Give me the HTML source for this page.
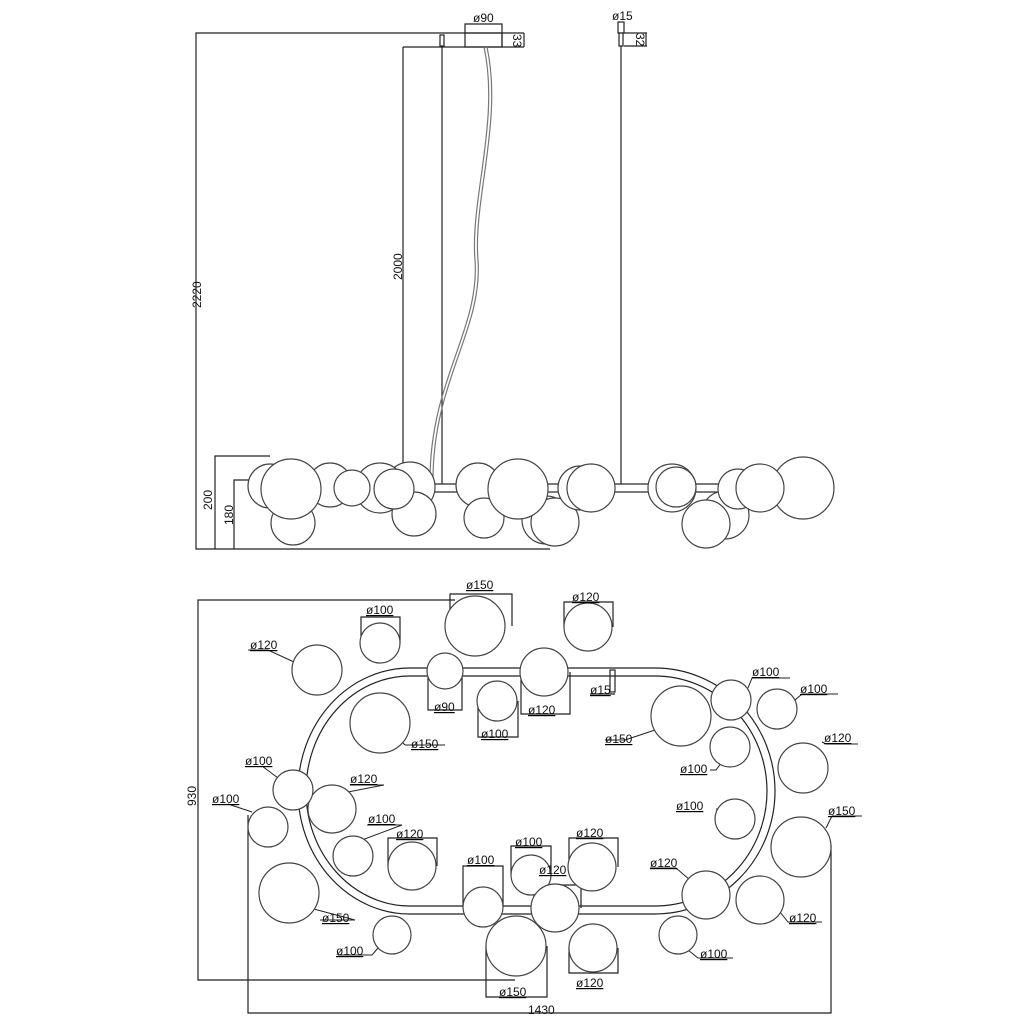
<!DOCTYPE html>
<html><head><meta charset="utf-8"><style>
html,body{margin:0;padding:0;background:#fff}
svg{display:block}
text{font-family:"Liberation Sans",sans-serif;font-size:12px;fill:#111}
</style></head><body>
<svg width="1024" height="1024" viewBox="0 0 1024 1024" xmlns="http://www.w3.org/2000/svg">
<g fill="none" stroke="#222" stroke-width="1.2">
<!-- elevation dimension lines -->
<polyline points="524,33 196,33 196,549 550,549"/>
<line x1="403" y1="47" x2="524" y2="47"/>
<line x1="524" y1="33" x2="524" y2="47"/>
<polyline points="465,33 465,24 502,24 502,47"/>
<rect x="465" y="33" width="37" height="14"/>
<rect x="440" y="35" width="4" height="11"/>
<rect x="618" y="22" width="6" height="11"/>
<rect x="619" y="33" width="4" height="13"/>
<line x1="624" y1="33" x2="647" y2="33"/>
<line x1="624" y1="46" x2="647" y2="46"/>
<line x1="646" y1="33" x2="646" y2="46"/>
<line x1="403" y1="47" x2="403" y2="484"/>
<line x1="442" y1="46" x2="442" y2="484"/>
<line x1="621" y1="46" x2="621" y2="484"/>
<path d="M484,47 C500,120 470,200 475,260 C480,330 430,380 430,480" stroke="#777"/>
<path d="M487,47 C503,120 473,200 478,260 C483,330 433,380 433,480" stroke="#777"/>
<polyline points="270,456 215,456 215,549"/>
<polyline points="260,480 234,480 234,549"/>
<!-- bar -->
<rect x="250" y="484" width="550" height="8" fill="#fff"/>
<!-- elevation globes -->
<g fill="#fff" stroke="#444">
<circle cx="270" cy="486" r="22"/><circle cx="293" cy="523" r="22"/><circle cx="330" cy="485" r="22"/>
<circle cx="410" cy="487" r="25"/><circle cx="414" cy="514" r="22"/><circle cx="380" cy="488" r="25"/>
<circle cx="352" cy="488" r="18"/><circle cx="291" cy="489" r="30"/><circle cx="394" cy="489" r="20"/>
<circle cx="478" cy="485" r="22"/><circle cx="484" cy="518" r="20"/><circle cx="546" cy="520" r="24"/>
<circle cx="555" cy="522" r="24"/><circle cx="518" cy="489" r="30"/><circle cx="580" cy="488" r="22"/>
<circle cx="591" cy="488" r="24"/><circle cx="672" cy="488" r="24"/><circle cx="725" cy="515" r="24"/>
<circle cx="706" cy="524" r="24"/><circle cx="676" cy="487" r="20"/><circle cx="738" cy="489" r="20"/>
<circle cx="803" cy="488" r="31"/><circle cx="760" cy="488" r="24"/>
</g>
<!-- plan dimension lines -->
<polyline points="455,600 198,600 198,980 515,980"/>
<polyline points="248,815 248,1013 831,1013 831,845"/>
<!-- track -->
<path d="M410,668 L655,668 A120,123 0 0 1 655,914 L410,914 A112,123 0 0 1 410,668 Z"/>
<path d="M410,676 L655,676 A112,115 0 0 1 655,906 L410,906 A104,115 0 0 1 410,676 Z"/>
<!-- brackets -->
<polyline points="361,643 361,617 400,617 400,643"/>
<polyline points="450,626 450,594 512,594 512,626"/>
<polyline points="564,627 564,602 613,602 613,627"/>
<polyline points="428,671 428,710 462,710 462,671"/>
<polyline points="478,701 478,737 518,737 518,701"/>
<polyline points="521,672 521,714 570,714 570,672"/>
<rect x="610" y="670" width="5" height="22"/>
<line x1="590" y1="694" x2="615" y2="694"/>
<polyline points="388,866 388,838 437,838 437,866"/>
<polyline points="463,907 463,866 503,866 503,907"/>
<polyline points="511,875 511,846 551,846 551,875"/>
<polyline points="534,908 534,885 581,885 581,908"/>
<polyline points="569,867 569,838 618,838 618,867"/>
<polyline points="486,946 486,997 547,997 547,946"/>
<polyline points="569,948 569,973 618,973 618,948"/>
<!-- leaders -->
<g stroke-width="1">
<path d="M248,650 L268,650 L294,662"/><path d="M405,745 L445,745 M405,745 L398,738"/>
<path d="M605,740 L625,740 L655,730"/><path d="M748,688 L752,678 L790,678"/>
<path d="M795,700 L802,694 L838,694"/><path d="M710,770 L716,770 L722,762"/>
<path d="M822,742 L826,744 L858,744"/><path d="M735,809 L716,809"/>
<path d="M826,828 L832,816 L862,816"/><path d="M650,868 L676,868 L690,880"/>
<path d="M780,912 L788,922 L822,922"/><path d="M688,950 L698,958 L733,958"/>
<path d="M262,766 L278,778"/><path d="M228,804 L252,812"/>
<path d="M350,785 L384,785 L348,792"/><path d="M367,825 L402,825 L362,840"/>
<path d="M320,920 L355,920 L310,908"/><path d="M338,955 L372,955 L378,948"/>
</g>
<!-- plan globes -->
<g fill="#fff" stroke="#444">
<circle cx="380" cy="643" r="20"/><circle cx="475" cy="626" r="30"/><circle cx="588" cy="627" r="24"/>
<circle cx="445" cy="671" r="18"/><circle cx="497" cy="701" r="20"/><circle cx="544" cy="672" r="24"/>
<circle cx="317" cy="670" r="25"/><circle cx="380" cy="723" r="30"/><circle cx="681" cy="716" r="30"/>
<circle cx="777" cy="709" r="20"/><circle cx="730" cy="747" r="20"/><circle cx="731" cy="700" r="20"/>
<circle cx="803" cy="768" r="25"/><circle cx="735" cy="819" r="20"/><circle cx="801" cy="847" r="30"/>
<circle cx="760" cy="900" r="24"/><circle cx="706" cy="895" r="24"/><circle cx="678" cy="935" r="19"/>
<circle cx="268" cy="827" r="20"/><circle cx="332" cy="809" r="24"/><circle cx="293" cy="790" r="20"/>
<circle cx="353" cy="856" r="20"/><circle cx="289" cy="893" r="30"/><circle cx="392" cy="935" r="19"/>
<circle cx="412" cy="866" r="24"/><circle cx="531" cy="875" r="20"/><circle cx="592" cy="867" r="24"/>
<circle cx="483" cy="907" r="20"/><circle cx="516" cy="946" r="30"/><circle cx="593" cy="948" r="24"/>
<circle cx="555" cy="908" r="24"/>
</g>
</g>
<!-- elevation labels -->
<text x="473" y="22">ø90</text>
<text x="612" y="20">ø15</text>
<text transform="translate(513,34) rotate(90)">33</text>
<text transform="translate(636,33) rotate(90)">32</text>
<text transform="translate(402,280) rotate(-90)">2000</text>
<text transform="translate(201,308) rotate(-90)">2220</text>
<text transform="translate(212,510) rotate(-90)">200</text>
<text transform="translate(233,525) rotate(-90)">180</text>
<!-- plan labels -->
<g text-decoration="underline">
<text x="366" y="614">ø100</text><text x="466" y="589">ø150</text><text x="572" y="601">ø120</text>
<text x="434" y="711">ø90</text><text x="481" y="738">ø100</text><text x="528" y="714">ø120</text>
<text x="590" y="694">ø15</text><text x="250" y="649">ø120</text><text x="411" y="748">ø150</text>
<text x="605" y="743">ø150</text><text x="752" y="676">ø100</text><text x="800" y="693">ø100</text>
<text x="680" y="773">ø100</text><text x="824" y="742">ø120</text><text x="676" y="810">ø100</text>
<text x="828" y="815">ø150</text><text x="650" y="867">ø120</text><text x="789" y="922">ø120</text>
<text x="700" y="958">ø100</text><text x="245" y="765">ø100</text><text x="212" y="803">ø100</text>
<text x="350" y="783">ø120</text><text x="368" y="823">ø100</text><text x="322" y="922">ø150</text>
<text x="336" y="955">ø100</text><text x="396" y="838">ø120</text><text x="467" y="864">ø100</text>
<text x="515" y="846">ø100</text><text x="539" y="874">ø120</text><text x="576" y="837">ø120</text>
<text x="499" y="996">ø150</text><text x="576" y="987">ø120</text>
</g>
<text transform="translate(196,806) rotate(-90)">930</text>
<text x="528" y="1014">1430</text>
</svg>
</body></html>
